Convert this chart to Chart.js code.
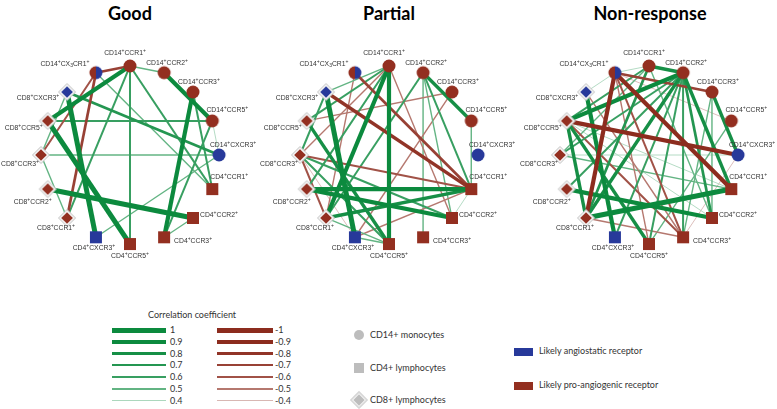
<!DOCTYPE html>
<html><head><meta charset="utf-8">
<script src="https://cdn.jsdelivr.net/npm/chart.js@4.4.1/dist/chart.umd.min.js"></script>
<style>
html,body{margin:0;padding:0;background:#fff;}
#wrap{position:relative;width:777px;height:409px;overflow:hidden;font-family:Lato,"Liberation Sans",sans-serif;color:#333;}
.panel{position:absolute;top:25px;width:260px;height:260px;}
.title{position:absolute;top:2px;width:200px;text-align:center;font-family:Lato,sans-serif;font-weight:bold;font-size:18px;color:#000;}
.lg{position:absolute;font-size:9px;line-height:10px;white-space:nowrap;color:#333;}
.bar{position:absolute;}
</style></head><body><div id="wrap"></div>
<script>
// ---------------- DATA ----------------
const panelTitles = ['Good', 'Partial', 'Non-response'];

const nodeIds = ['CD14CCR1','CD14CCR2','CD14CCR3','CD14CCR5','CD14CXCR3',
  'CD4CCR1','CD4CCR2','CD4CCR3','CD4CCR5','CD4CXCR3',
  'CD8CCR1','CD8CCR2','CD8CCR3','CD8CCR5','CD8CXCR3','CD14CX3CR1'];
const nodeLabels = ['CD14⁺CCR1⁺','CD14⁺CCR2⁺','CD14⁺CCR3⁺','CD14⁺CCR5⁺','CD14⁺CXCR3⁺',
  'CD4⁺CCR1⁺','CD4⁺CCR2⁺','CD4⁺CCR3⁺','CD4⁺CCR5⁺','CD4⁺CXCR3⁺',
  'CD8⁺CCR1⁺','CD8⁺CCR2⁺','CD8⁺CCR3⁺','CD8⁺CCR5⁺','CD8⁺CXCR3⁺','CD14⁺CX₃CR1⁺'];
const nodeCells = ['CD14','CD14','CD14','CD14','CD14','CD4','CD4','CD4','CD4','CD4',
  'CD8','CD8','CD8','CD8','CD8','CD14'];
const nodeReceptors = ['pro','pro','pro','pro','anti','pro','pro','pro','pro','anti',
  'pro','pro','pro','pro','anti','mixed'];

const goodEdges = [
  ['CD14CX3CR1','CD14CCR1',-0.7],['CD14CX3CR1','CD8CCR1',-0.7],['CD14CX3CR1','CD8CCR3',-0.6],
  ['CD14CCR1','CD8CCR5',0.9],['CD14CCR1','CD4CCR5',0.6],['CD14CCR1','CD8CCR1',0.6],
  ['CD14CCR1','CD4CCR1',0.6],['CD14CCR1','CD14CCR2',0.5],['CD14CCR2','CD14CCR5',0.9],
  ['CD14CCR3','CD4CCR3',0.9],['CD14CCR3','CD4CCR1',0.6],['CD14CCR5','CD4CCR3',0.6],
  ['CD14CCR5','CD14CXCR3',0.4],['CD14CCR5','CD8CCR5',0.6],['CD14CXCR3','CD8CCR3',0.5],
  ['CD8CXCR3','CD14CXCR3',0.7],['CD8CXCR3','CD4CXCR3',1],['CD8CCR5','CD4CCR5',1],
  ['CD8CCR2','CD4CCR2',1],['CD14CX3CR1','CD4CCR1',0.5],['CD4CXCR3','CD14CXCR3',0.5],
  ['CD4CCR2','CD4CCR3',0.5],['CD8CXCR3','CD8CCR3',0.5],['CD8CCR3','CD8CCR1',0.5]
];
const partialEdges = [
  ['CD14CCR1','CD4CCR5',0.9],['CD14CCR1','CD8CCR1',0.9],['CD14CCR1','CD8CCR5',0.6],
  ['CD14CCR1','CD8CCR2',0.6],['CD14CCR1','CD8CCR3',-0.5],['CD14CCR1','CD4CCR2',-0.5],
  ['CD14CCR1','CD8CXCR3',0.5],['CD14CX3CR1','CD4CCR1',-0.7],['CD14CX3CR1','CD8CCR1',-0.5],
  ['CD8CXCR3','CD4CCR1',-0.8],['CD8CXCR3','CD4CXCR3',1],['CD8CXCR3','CD8CCR3',0.6],
  ['CD8CCR5','CD4CCR5',0.8],['CD8CCR5','CD14CCR3',-0.5],['CD8CCR3','CD4CCR1',-0.6],
  ['CD8CCR3','CD4CCR2',0.6],['CD8CCR3','CD4CCR5',0.6],['CD8CCR3','CD8CCR1',-0.6],
  ['CD8CCR3','CD4CXCR3',-0.4],['CD8CCR2','CD4CCR1',0.9],['CD8CCR2','CD4CCR2',0.9],
  ['CD8CCR1','CD4CCR1',0.8],['CD8CCR1','CD4CCR5',0.5],['CD4CXCR3','CD4CCR1',-0.5],
  ['CD14CCR2','CD14CCR5',0.8],['CD14CCR2','CD4CCR1',0.6],['CD14CCR2','CD4CCR2',0.5],
  ['CD14CCR2','CD8CCR1',0.6],['CD14CCR3','CD4CXCR3',-0.5],['CD14CCR2','CD4CCR3',0.5],
  ['CD14CCR5','CD4CCR1',0.5],['CD4CCR1','CD4CCR2',0.4],['CD4CXCR3','CD4CCR5',0.5]
];
const nonResponseEdges = [
  ['CD14CX3CR1','CD14CCR3',-0.7],['CD14CX3CR1','CD4CCR1',-0.9],['CD14CX3CR1','CD8CCR1',-0.9],
  ['CD14CX3CR1','CD4CCR3',-0.6],['CD14CX3CR1','CD4CCR5',-0.5],['CD14CX3CR1','CD8CXCR3',0.4],
  ['CD14CX3CR1','CD14CCR1',0.4],['CD14CX3CR1','CD14CCR5',-0.4],['CD14CCR1','CD14CCR2',0.8],
  ['CD14CCR1','CD8CCR5',0.6],['CD14CCR1','CD8CCR3',0.5],['CD14CCR1','CD8CCR1',0.7],
  ['CD14CCR1','CD4CCR2',0.5],['CD14CCR2','CD8CCR5',0.9],['CD14CCR2','CD8CCR3',0.6],
  ['CD14CCR2','CD8CCR2',0.6],['CD14CCR2','CD8CCR1',0.8],['CD14CCR2','CD4CXCR3',0.6],
  ['CD14CCR2','CD4CCR1',0.8],['CD14CCR2','CD4CCR2',0.7],['CD14CCR2','CD4CCR3',0.6],
  ['CD14CCR2','CD4CCR5',0.6],['CD14CCR3','CD14CXCR3',0.8],['CD14CCR3','CD4CCR2',0.5],
  ['CD8CCR5','CD14CXCR3',-0.9],['CD8CCR5','CD4CCR5',0.8],['CD8CCR5','CD4CCR3',-0.6],
  ['CD8CCR5','CD8CCR1',0.8],['CD8CCR5','CD4CCR1',0.4],['CD8CCR5','CD4CCR2',0.4],
  ['CD8CXCR3','CD4CXCR3',0.9],['CD8CXCR3','CD4CCR3',-0.5],['CD8CCR3','CD4CCR1',0.5],
  ['CD8CCR3','CD14CXCR3',0.4],['CD8CCR2','CD4CCR2',0.9],['CD8CCR1','CD4CCR1',1],
  ['CD8CCR1','CD4CCR3',-0.5],['CD4CCR5','CD14CCR5',0.5],['CD4CCR3','CD14CCR3',0.5],
  ['CD14CXCR3','CD4CCR3',-0.4]
];
const panelEdges = [goodEdges, partialEdges, nonResponseEdges];

const legendPositive = [1, 0.9, 0.8, 0.7, 0.6, 0.5, 0.4];
const legendNegative = [-1, -0.9, -0.8, -0.7, -0.6, -0.5, -0.4];
const legendCellTypes = ['CD14+ monocytes', 'CD4+ lymphocytes', 'CD8+ lymphocytes'];
const legendReceptors = ['Likely angiostatic receptor', 'Likely pro-angiogenic receptor'];

// ---------------- STYLE ----------------
const RED = '#932f20', BLUE = '#27399a';
const PANEL_LEFT = [0, 259, 519];
const TITLE_CX = [130, 389, 650];
const AXIS_LIM = 1.46;
const LABEL_OFF = [[-5,-13],[3,-10],[6,-10],[15,-11],[14,-10],[17,-12],[26,-3],[29,4],
  [0,12],[-2,11],[-11,10],[-15,13],[-21,9],[-24,7],[-29,6],[-31,-9]];
const WIDTHS = {10:5, 9:4.2, 8:3.4, 7:2.7, 6:2.0, 5:1.4, 4:0.9};
const TINT = {10:0, 9:0, 8:0.04, 7:0.1, 6:0.18, 5:0.36, 4:0.66};
function edgeStyle(r){
  const k = Math.round(Math.abs(r)*10);
  const base = r > 0 ? [12,138,62] : [140,44,30];
  const t = TINT[k];
  const c = base.map(v => Math.round(v + (255 - v) * t));
  return {w: WIDTHS[k], c: 'rgb(' + c.join(',') + ')'};
}
const N = nodeIds.length;
function nodeXY(i){
  const a = Math.PI/2 - i * 2 * Math.PI / N;
  return {x: Math.cos(a), y: Math.sin(a)};
}
function marker(cell, rec){
  const s = 20, m = s/2;
  const c = document.createElement('canvas'); c.width = s; c.height = s;
  const g = c.getContext('2d');
  const col = rec === 'anti' ? BLUE : RED;
  if (cell === 'CD14'){
    if (rec === 'mixed'){
      g.beginPath(); g.moveTo(m,m); g.arc(m,m,6.5,Math.PI/2,3*Math.PI/2); g.closePath(); g.fillStyle = RED; g.fill();
      g.beginPath(); g.moveTo(m,m); g.arc(m,m,6.5,-Math.PI/2,Math.PI/2); g.closePath(); g.fillStyle = BLUE; g.fill();
    } else {
      g.beginPath(); g.arc(m,m,6.5,0,Math.PI*2); g.fillStyle = col; g.fill();
    }
  } else if (cell === 'CD4'){
    g.fillStyle = col; g.fillRect(m-6, m-6, 12, 12);
  } else {
    const dia = (r) => { g.beginPath(); g.moveTo(m, m-r); g.lineTo(m+r, m); g.lineTo(m, m+r); g.lineTo(m-r, m); g.closePath(); };
    dia(8.5); g.fillStyle = '#f4f4f4'; g.fill(); g.strokeStyle = '#c2c2c2'; g.lineWidth = 1; g.stroke();
    dia(5.8); g.fillStyle = col; g.fill();
  }
  return c;
}
const markers = nodeIds.map((id, i) => marker(nodeCells[i], nodeReceptors[i]));

function drawRich(ctx, text, cx, cy){
  const big = '6.8px "Liberation Sans", Arial, sans-serif';
  const small = '5px "Liberation Sans", Arial, sans-serif';
  const segs = [];
  for (const ch of text){
    if (ch === '⁺') segs.push({t:'+', f:small, dy:-2.2});
    else if (ch === '₃') segs.push({t:'3', f:small, dy:1.8});
    else segs.push({t:ch, f:big, dy:0});
  }
  let total = 0;
  segs.forEach(s => { ctx.font = s.f; s.w = ctx.measureText(s.t).width; total += s.w; });
  let x = cx - total/2;
  ctx.fillStyle = '#333'; ctx.textBaseline = 'middle'; ctx.textAlign = 'left';
  segs.forEach(s => { ctx.font = s.f; ctx.fillText(s.t, x, cy + s.dy); x += s.w; });
}

const labelPlugin = {
  id: 'nodeLabels',
  afterDatasetsDraw(chart){
    const ctx = chart.ctx, xs = chart.scales.x, ys = chart.scales.y;
    ctx.save();
    nodeLabels.forEach((lab, i) => {
      const p = nodeXY(i);
      drawRich(ctx, lab, xs.getPixelForValue(p.x) + LABEL_OFF[i][0], ys.getPixelForValue(p.y) + LABEL_OFF[i][1]);
    });
    ctx.restore();
  }
};

// ---------------- BUILD ----------------
const wrap = document.getElementById('wrap');
const idx = id => nodeIds.indexOf(id);

panelTitles.forEach((title, pi) => {
  const t = document.createElement('div');
  t.className = 'title'; t.textContent = title;
  t.style.left = (TITLE_CX[pi] - 100) + 'px';
  wrap.appendChild(t);

  const holder = document.createElement('div');
  holder.className = 'panel'; holder.style.left = PANEL_LEFT[pi] + 'px';
  const cv = document.createElement('canvas'); cv.width = 260; cv.height = 260;
  holder.appendChild(cv); wrap.appendChild(holder);

  const edgeSets = panelEdges[pi].map(e => {
    const st = edgeStyle(e[2]);
    return {
      label: e[0] + '-' + e[1], data: [nodeXY(idx(e[0])), nodeXY(idx(e[1]))],
      showLine: true, borderColor: st.c, borderWidth: st.w, pointRadius: 0,
      pointHoverRadius: 0, order: 2 - Math.abs(e[2]), fill: false, clip: false
    };
  });
  const nodeSet = {
    label: 'nodes', data: nodeIds.map((id, i) => nodeXY(i)), showLine: false,
    pointStyle: ctx => markers[ctx.dataIndex], pointRadius: 8, order: 0, clip: false
  };
  new Chart(cv, {
    type: 'scatter',
    data: {datasets: [nodeSet, ...edgeSets]},
    options: {
      responsive: false, animation: false, devicePixelRatio: 1, events: [],
      layout: {padding: 0, autoPadding: false},
      plugins: {legend: {display: false}, tooltip: {enabled: false}, title: {display: false}},
      scales: {
        x: {type: 'linear', min: -AXIS_LIM, max: AXIS_LIM, display: false},
        y: {type: 'linear', min: -AXIS_LIM, max: AXIS_LIM, display: false}
      }
    },
    plugins: [labelPlugin]
  });
});

// Legend
function addText(txt, left, top, extra){
  const d = document.createElement('div'); d.className = 'lg'; d.textContent = txt;
  d.style.left = left + 'px'; d.style.top = top + 'px';
  if (extra) Object.assign(d.style, extra);
  wrap.appendChild(d); return d;
}
addText('Correlation coefficient', 148, 310);
const ROW_Y = [330, 342, 353.5, 365, 377, 389, 400.5];
legendPositive.forEach((v, i) => {
  const st = edgeStyle(v);
  const b = document.createElement('div'); b.className = 'bar';
  Object.assign(b.style, {left:'112px', width:'54px', top:(ROW_Y[i] - st.w/2) + 'px', height: st.w + 'px', background: st.c});
  wrap.appendChild(b);
  addText(String(v), 170, ROW_Y[i] - 5);
});
legendNegative.forEach((v, i) => {
  const st = edgeStyle(v);
  const b = document.createElement('div'); b.className = 'bar';
  Object.assign(b.style, {left:'217px', width:'56px', top:(ROW_Y[i] - st.w/2) + 'px', height: st.w + 'px', background: st.c});
  wrap.appendChild(b);
  addText(String(v), 275, ROW_Y[i] - 5);
});
// cell type shapes
const SHAPE_Y = [335, 368, 400];
legendCellTypes.forEach((txt, i) => {
  const s = document.createElement('div'); s.className = 'bar';
  if (i === 0) Object.assign(s.style, {left:'354px', top:(SHAPE_Y[i]-5)+'px', width:'10px', height:'10px', borderRadius:'50%', background:'#bdbdbd'});
  else if (i === 1) Object.assign(s.style, {left:'354px', top:(SHAPE_Y[i]-5)+'px', width:'10px', height:'10px', background:'#bdbdbd'});
  else Object.assign(s.style, {left:'355px', top:(SHAPE_Y[i]-4)+'px', width:'8px', height:'8px', background:'#bdbdbd', transform:'rotate(45deg)', outline:'1.5px solid #f0f0f0', boxShadow:'0 0 0 2.5px #d6d6d6'});
  wrap.appendChild(s);
  addText(txt, 370, SHAPE_Y[i] - 5);
});
const REC_Y = [352, 386];
const REC_C = [BLUE, RED];
legendReceptors.forEach((txt, i) => {
  const s = document.createElement('div'); s.className = 'bar';
  Object.assign(s.style, {left:'514px', top:(REC_Y[i]-4)+'px', width:'19px', height:'8px', background: REC_C[i]});
  wrap.appendChild(s);
  addText(txt, 539, REC_Y[i] - 6);
});
</script></body></html>
